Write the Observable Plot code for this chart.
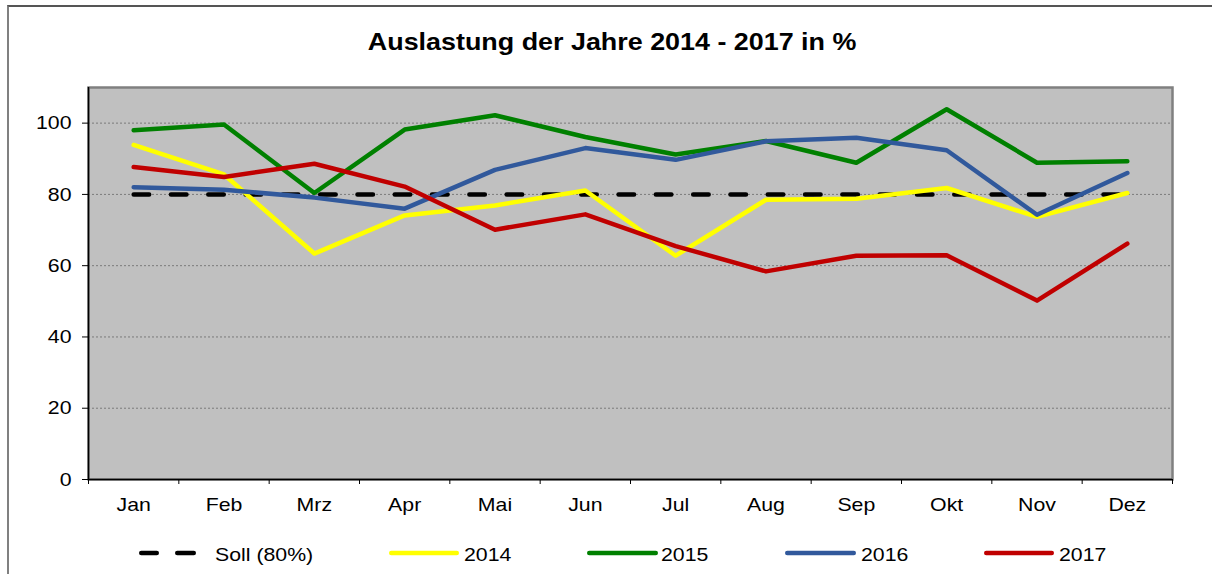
<!DOCTYPE html>
<html>
<head>
<meta charset="utf-8">
<script src="https://cdn.jsdelivr.net/npm/d3@7"></script>
<script src="https://cdn.jsdelivr.net/npm/@observablehq/plot@0.6"></script>
<style>
html, body { margin: 0; padding: 0; background: #fff; }
body { width: 1212px; height: 574px; position: relative; overflow: hidden; font-family: "Liberation Sans", Arial, sans-serif; color: #000; }
#frame { position: absolute; left: 7px; top: 5px; width: 1300px; height: 700px; border-top: 2px solid #555; border-left: 2px solid #808080; box-sizing: border-box; }
#title { position: absolute; left: 0; top: 30px; width: 1224px; text-align: center; font-size: 24px; line-height: 24px; font-weight: bold; }
#title span { display: inline-block; transform: scaleX(1.12); transform-origin: center; white-space: nowrap; }
#chart { position: absolute; left: 0; top: 0; }
.lg-text { position: absolute; top: 545px; font-size: 19px; line-height: 19px; transform: scaleX(1.12); transform-origin: left center; white-space: nowrap; }
#legend-svg { position: absolute; left: 0; top: 530px; }
</style>
</head>
<body>
<div id="frame"></div>
<div id="title"><span>Auslastung der Jahre 2014 - 2017 in %</span></div>
<script>
// ---- data ----
const months = ["Jan", "Feb", "Mrz", "Apr", "Mai", "Jun", "Jul", "Aug", "Sep", "Okt", "Nov", "Dez"];
const soll  = [80, 80, 80, 80, 80, 80, 80, 80, 80, 80, 80, 80];
const y2014 = [93.9, 85.6, 63.4, 74.1, 76.9, 81.1, 62.8, 78.5, 78.8, 81.8, 73.7, 80.4];
const y2015 = [98.0, 99.6, 80.4, 98.2, 102.2, 96.1, 91.2, 95.0, 88.9, 103.9, 88.9, 89.3];
const y2016 = [82.0, 81.3, 79.1, 76.0, 86.9, 93.0, 89.7, 94.9, 95.9, 92.4, 74.3, 86.0];
const y2017 = [87.7, 84.9, 88.6, 82.2, 70.1, 74.4, 65.5, 58.4, 62.8, 62.9, 50.2, 66.2];
const seriesNames  = ["Soll (80%)", "2014", "2015", "2016", "2017"];
const seriesValues = [soll, y2014, y2015, y2016, y2017];
const seriesColors = ["#000000", "#FFFF00", "#008000", "#31599C", "#C00000"];
const yTicks = [0, 20, 40, 60, 80, 100];
const gridTicks = [20, 40, 60, 80, 100];
const yDomain = [0, 110];

// ---- build table ----
const rows = seriesValues.flatMap((arr, s) => arr.map((v, i) => ({series: seriesNames[s], m: i + 1, v})));
const xDomain = [0.5, months.length + 0.5];
const boundaries = d3.range(xDomain[0], xDomain[1] + 0.01, 1);

const lineMarks = seriesNames.map((name, s) => Plot.line(rows.filter(r => r.series === name), {
  x: "m", y: "v",
  stroke: seriesColors[s],
  strokeWidth: 4.5,
  strokeLinecap: "round",
  strokeLinejoin: "round",
  strokeDasharray: s === 0 ? "15.5,21.8" : null
}));

const chart = Plot.plot({
  width: 1212, height: 520,
  marginLeft: 88, marginRight: 40, marginTop: 87, marginBottom: 41,
  style: {fontFamily: "'Liberation Sans', Arial, sans-serif", fontSize: "19px", color: "#000", background: "transparent", overflow: "visible"},
  x: {domain: xDomain, axis: null, label: null},
  y: {domain: yDomain, axis: null, label: null},
  marks: [
    Plot.frame({fill: "#C0C0C0", stroke: "#808080", strokeWidth: 2.5}),
    Plot.gridY(gridTicks, {stroke: "#7a7a7a", strokeOpacity: 1, strokeWidth: 1, strokeDasharray: "2,2"}),
    ...lineMarks,
    Plot.ruleY([yDomain[0]], {stroke: "#000", strokeWidth: 1.5}),
    Plot.ruleX([xDomain[0]], {stroke: "#000", strokeWidth: 1.5}),
    Plot.axisY(yTicks, {tickSize: 6, tickPadding: 11, fontSize: 19, label: null}),
    Plot.axisX(d3.range(1, months.length + 1), {tickSize: 0, tickPadding: 18, fontSize: 19, label: null, tickFormat: i => months[i - 1]}),
    Plot.axisX(boundaries, {tickSize: 5, label: null, tickFormat: () => ""})
  ]
});
chart.id = "chart";
document.body.appendChild(chart);

// horizontal stretch of text as in the reference
chart.querySelectorAll("text").forEach(t => {
  const L = t.getComputedTextLength();
  if (L > 0) {
    t.setAttribute("textLength", (L * 1.12).toFixed(2));
    t.setAttribute("lengthAdjust", "spacingAndGlyphs");
  }
});

// ---- legend (HTML + small svg) ----
const legendSampleX = [[139, 196], [389, 459], [587, 658], [785, 856], [984, 1054]];
const legendTextX = [215, 464, 661, 861, 1059];
const lgY = 23;
const ns = "http://www.w3.org/2000/svg";
const lsvg = document.createElementNS(ns, "svg");
lsvg.setAttribute("id", "legend-svg");
lsvg.setAttribute("width", 1212);
lsvg.setAttribute("height", 44);
seriesNames.forEach((name, s) => {
  const [a, b] = legendSampleX[s];
  const mk = (x1, x2) => {
    const l = document.createElementNS(ns, "line");
    l.setAttribute("x1", x1); l.setAttribute("x2", x2);
    l.setAttribute("y1", lgY); l.setAttribute("y2", lgY);
    l.setAttribute("stroke", seriesColors[s]);
    l.setAttribute("stroke-width", 4.5);
    l.setAttribute("stroke-linecap", "round");
    lsvg.appendChild(l);
  };
  if (s === 0) {
    const mid1 = a + 20, mid2 = b - 21;
    mk(a + 2.25, mid1 - 2.25);
    mk(mid2 + 2.25, b - 2.25);
  } else {
    mk(a + 2.25, b - 2.25);
  }
  const span = document.createElement("div");
  span.className = "lg-text";
  span.style.left = legendTextX[s] + "px";
  span.textContent = name;
  document.body.appendChild(span);
});
document.body.appendChild(lsvg);
</script>
</body>
</html>
